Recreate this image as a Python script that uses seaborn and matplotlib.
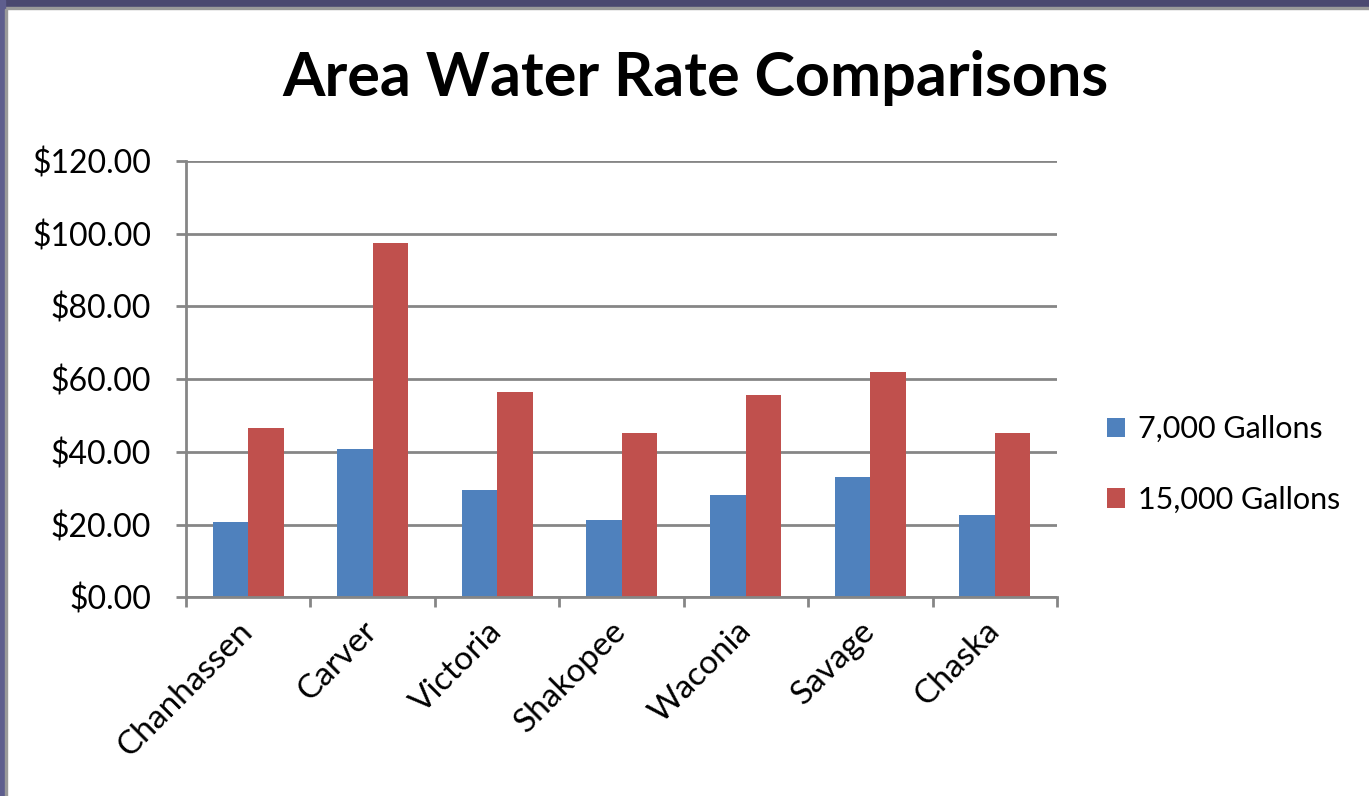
import numpy as np
import pandas as pd
import matplotlib
matplotlib.use('Agg')
import matplotlib.pyplot as plt
import seaborn as sns
from matplotlib.patches import Rectangle
from matplotlib.ticker import FixedLocator

cities = ['Chanhassen', 'Carver', 'Victoria', 'Shakopee', 'Waconia', 'Savage', 'Chaska']
gal_7000 = [20.70, 40.85, 29.55, 21.25, 28.15, 32.95, 22.75]
gal_15000 = [46.65, 97.45, 56.40, 45.20, 55.50, 61.95, 45.20]
series = ['7,000 Gallons', '15,000 Gallons']
colors = ['#4F81BD', '#C0504D']
y_ticks = [0, 20, 40, 60, 80, 100, 120]

df = pd.DataFrame({'city': cities * 2,
                   'cost': gal_7000 + gal_15000,
                   'series': [series[0]] * len(cities) + [series[1]] * len(cities)})

sns.set_style('white')
plt.rcParams['font.family'] = ['Lato', 'DejaVu Sans']
grid_col = '#868686'

fig = plt.figure(figsize=(13.69, 7.96), dpi=100)
ax = fig.add_axes([0.1359, 0.2497, 0.6362, 0.5481])

sns.barplot(data=df, x='city', y='cost', hue='series', palette=colors,
            width=2 / 3.5, gap=0, linewidth=0, saturation=1, ax=ax, legend=True)

ax.set_ylim(0, 120)
ax.set_xlim(-0.5, len(cities) - 0.5)
ax.set_yticks(y_ticks)
ax.set_yticklabels(['$%.2f' % v for v in y_ticks])
ax.yaxis.grid(True, color=grid_col, linewidth=2.0)
ax.set_axisbelow(True)
ax.set_xlabel('')
ax.set_ylabel('')

# ticks between categories, labels at category centres
ax.xaxis.set_major_locator(FixedLocator(np.arange(-0.5, len(cities), 1.0)))
ax.xaxis.set_minor_locator(FixedLocator(np.arange(len(cities))))
ax.set_xticklabels([], minor=False)
ax.set_xticklabels(cities, minor=True, rotation=45, ha='right', va='center',
                   rotation_mode='anchor', fontsize=24, color='black')
ax.tick_params(axis='x', which='major', length=7, width=2.0, color=grid_col, direction='out', bottom=True)
ax.tick_params(axis='x', which='minor', length=0, pad=21)
ax.tick_params(axis='y', length=7, width=2.0, color=grid_col, direction='out', left=True,
               labelsize=23, labelcolor='black', pad=18)

for side in ['top', 'right']:
    ax.spines[side].set_visible(False)
for side in ['left', 'bottom']:
    ax.spines[side].set_color(grid_col)
    ax.spines[side].set_linewidth(2.0)

leg = ax.legend(loc='center left', bbox_to_anchor=(0.7975, 0.4165), bbox_transform=fig.transFigure,
                frameon=False, fontsize=22, handlelength=0.6, handleheight=0.6,
                handletextpad=0.4, labelspacing=1.4, borderpad=0)
for t in leg.get_texts():
    t.set_color('black')

fig.text(0.508, 0.902, 'Area Water Rate Comparisons', ha='center', va='center',
         fontsize=44, fontweight='bold', color='black')

# slide frame along top and left edge
fig.patches.append(Rectangle((0, 0.9912), 1, 0.0088, transform=fig.transFigure,
                             color='#4A4870', zorder=-1))
fig.patches.append(Rectangle((0, 0.9887), 1, 0.0025, transform=fig.transFigure,
                             color='#9A9A9A', zorder=-1))
fig.patches.append(Rectangle((0, 0), 0.0037, 1, transform=fig.transFigure,
                             color='#5E5E8E', zorder=-1))
fig.patches.append(Rectangle((0.0037, 0), 0.0015, 0.9887, transform=fig.transFigure,
                             color='#9A9A9A', zorder=-1))

fig.savefig('out.png', dpi=100)
